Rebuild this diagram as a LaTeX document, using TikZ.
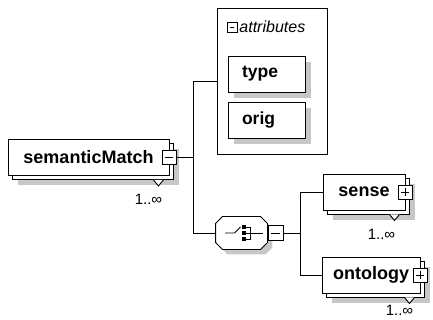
\documentclass[tikz,border=0pt]{standalone}
\usepackage{fontspec}
\setmainfont{Liberation Sans}
\usetikzlibrary{shadows, calc}
\definecolor{shadowgrey}{gray}{0.78}

\begin{document}
\begin{tikzpicture}[x=1pt, y=-1pt, line width=0.9pt,
  elem/.style={rectangle, draw, fill=white, inner sep=0pt, minimum height=36pt, font=\fontsize{18}{20}\selectfont\bfseries,
    drop shadow={shadow xshift=10pt, shadow yshift=-10pt, fill=shadowgrey, opacity=1, draw=none},
    copy shadow={shadow xshift=4pt, shadow yshift=-4pt, draw, fill=white}},
  attr/.style={rectangle, draw, fill=white, inner xsep=14pt, inner ysep=0pt, text width=49pt, minimum height=36pt, align=left,
    font=\fontsize{17.5}{20}\selectfont\bfseries,
    drop shadow={shadow xshift=6pt, shadow yshift=-6pt, fill=shadowgrey, opacity=1, draw=none}},
  btn/.style={rectangle, draw, fill=white, minimum size=14pt, inner sep=0pt},
  minus/.style={path picture={\draw ([xshift=3pt]path picture bounding box.west) -- ([xshift=-3pt]path picture bounding box.east);}},
  plus/.style={path picture={\draw ([xshift=3pt]path picture bounding box.west) -- ([xshift=-3pt]path picture bounding box.east);
    \draw ([yshift=-3pt]path picture bounding box.north) -- ([yshift=3pt]path picture bounding box.south);}},
  choice/.style={rectangle, inner sep=0pt, minimum width=51pt, minimum height=32pt},
  card/.style={font=\fontsize{15}{16}\selectfont, inner sep=0pt}]
  \useasboundingbox (0,0) rectangle (433,320);

  \node[elem, minimum width=161pt] (sm) at (88.5,157.5) {semanticMatch};
  \draw[fill=white] ($(sm.south east)+(-16,4)$) -- ++(5,6) -- ++(5,-6);
  \node[btn, minus] (smb) at (sm.east) {};
  \node[card] (smc) at ($(sm.south east)+(-21,23)$) {1..∞};

  \node[rectangle, draw, fill=white, minimum width=110pt, minimum height=146pt, inner sep=0pt] (attrs) at (272,81) {};
  \node[btn, minus, minimum size=10pt] (attrb) at (232,27) {};
  \node[anchor=west, inner sep=0pt, font=\fontsize{16}{18}\selectfont\itshape] (attrl) at (239,27) {attributes};
  \node[attr] (type) at (266.5,74) {type};
  \node[attr] (orig) at (266.5,120) {orig};

  \node[choice] (ch) at (241.5,233) {};
  \fill[shadowgrey] ($(ch.north west)+(12,5)$) -- ($(ch.north east)+(-2,5)$) -- ($(ch.north east)+(5,12)$)
    -- ($(ch.south east)+(5,-2)$) -- ($(ch.south east)+(-2,5)$) -- ($(ch.south west)+(12,5)$)
    -- ($(ch.south west)+(5,-2)$) -- ($(ch.north west)+(5,12)$) -- cycle;
  \draw[fill=white] ($(ch.north west)+(7,0)$) -- ($(ch.north east)+(-7,0)$) -- ($(ch.north east)+(0,7)$)
    -- ($(ch.south east)+(0,-7)$) -- ($(ch.south east)+(-7,0)$) -- ($(ch.south west)+(7,0)$)
    -- ($(ch.south west)+(0,-7)$) -- ($(ch.north west)+(0,7)$) -- cycle;
  \draw ($(ch.center)+(-16.5,0)$) -- ++(9.5,0) -- ++(6,-6);
  \foreach \dy in {-6,0,6}
    \fill ($(ch.center)+(0,\dy)+(0,-2)$) rectangle ++(4,4);
  \draw ($(ch.center)+(4,-6)$) -- ++(5,0) -- ++(0,12) -- ++(-5,0);
  \draw ($(ch.center)+(4,0)$) -- ++(17,0);
  \node[btn, minus, minimum size=15pt] (chb) at (275.5,233) {};

  \node[elem, minimum width=82pt] (sense) at (364,192) {sense};
  \draw[fill=white] ($(sense.south east)+(-16,4)$) -- ++(5,6) -- ++(5,-6);
  \node[btn, plus] (senseb) at (sense.east) {};
  \node[card] (sensec) at ($(sense.south east)+(-24,24)$) {1..∞};

  \node[elem, minimum width=98pt] (onto) at (371,275) {ontology};
  \draw[fill=white] ($(onto.south east)+(-16,4)$) -- ++(5,6) -- ++(5,-6);
  \node[btn, plus] (ontob) at (onto.east) {};
  \node[card] (ontoc) at ($(onto.south east)+(-21,17)$) {1..∞};

  \draw (smb.east) -- ++(17,0) coordinate (j1);
  \draw (j1) |- (attrs.west);
  \draw (j1) |- (ch.west);
  \draw (ch.east) -- (chb.west);
  \draw (chb.east) -- ++(17,0) coordinate (j2);
  \draw (j2) |- (sense.west);
  \draw (j2) |- (onto.west);
\end{tikzpicture}
\end{document}
